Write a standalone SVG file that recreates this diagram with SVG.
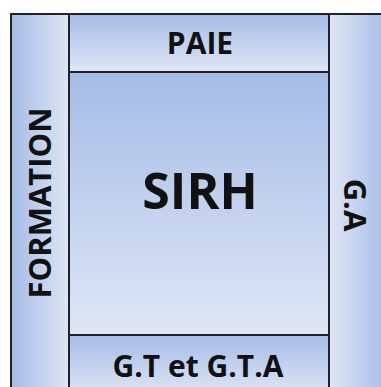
<svg xmlns="http://www.w3.org/2000/svg" width="381" height="387" viewBox="0 0 381 387">
<defs>
<linearGradient id="gH" x1="0" y1="0" x2="1" y2="0"><stop offset="0" stop-color="#a5bce6"/><stop offset="1" stop-color="#dfe6f5"/></linearGradient>
<linearGradient id="gHr" x1="0" y1="0" x2="1" y2="0"><stop offset="0" stop-color="#dfe6f5"/><stop offset="1" stop-color="#a5bce6"/></linearGradient>
<linearGradient id="gV" x1="0" y1="0" x2="0" y2="1"><stop offset="0" stop-color="#a5bce6"/><stop offset="1" stop-color="#dfe6f5"/></linearGradient>
<style>
.b{stroke:#1e232b;stroke-width:2}
.t{font-family:"Open Sans","Liberation Sans",sans-serif;font-weight:bold;fill:#111;text-anchor:middle}
</style>
</defs>
<rect width="381" height="387" fill="#fff"/>
<g id="formation"><rect class="b" x="11" y="14" width="58" height="380" fill="url(#gH)"/>
<text class="t" font-size="31" transform="translate(51,203) rotate(-90)">FORMATION</text></g>
<g id="ga"><rect class="b" x="329" y="14" width="60" height="380" fill="url(#gHr)"/>
<text class="t" font-size="31" transform="translate(344,205) rotate(90)">G.A</text></g>
<g id="paie"><rect class="b" x="69" y="14" width="260" height="58" fill="url(#gV)"/>
<text class="t" font-size="30" x="200" y="54">PAIE</text></g>
<g id="sirh"><rect class="b" x="69" y="72" width="260" height="263" fill="url(#gV)"/>
<text class="t" font-size="50" x="200" y="209">SIRH</text></g>
<g id="gt"><rect class="b" x="69" y="335" width="260" height="60" fill="url(#gV)"/>
<text class="t" font-size="30" x="198" y="377">G.T et G.T.A</text></g>
<g id="connectors"/>
</svg>
